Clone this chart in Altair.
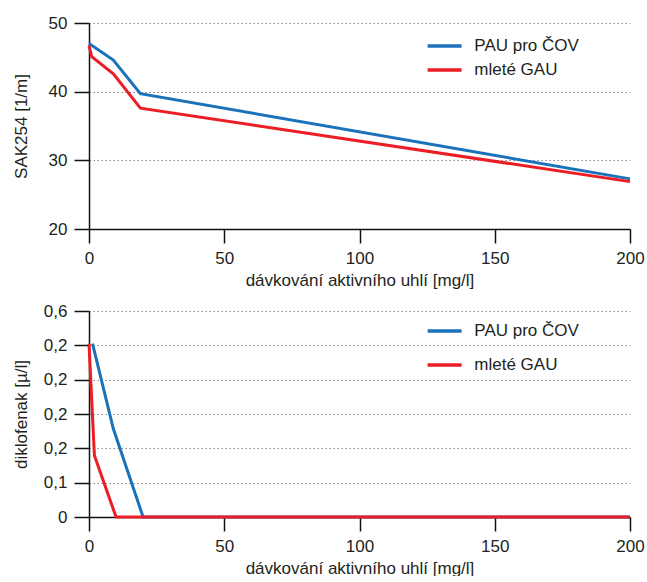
import altair as alt
import pandas as pd

series = ["PAU pro ČOV", "mleté GAU"]
colors = ["#1a72bb", "#ec1d25"]

# top panel: SAK254
top_blue_x = [0, 9, 19, 200]
top_blue_y = [47.0, 44.6, 39.7, 27.3]
top_red_x = [0, 1, 9, 19, 200]
top_red_y = [46.7, 45.1, 42.6, 37.6, 26.9]

# bottom panel: diklofenak
bot_blue_x = [1.3, 9, 20, 200]
bot_blue_y = [0.505, 0.257, 0.0, 0.0]
bot_red_x = [0, 2, 10, 200]
bot_red_y = [0.505, 0.179, 0.0, 0.0]

x_ticks = [0, 50, 100, 150, 200]
top_y_ticks = [20, 30, 40, 50]
bot_y_ticks = [0, 0.1, 0.2, 0.3, 0.4, 0.5, 0.6]
bot_y_labels = ["0", "0,1", "0,2", "0,2", "0,2", "0,2", "0,6"]

x_title = "dávkování aktivního uhlí [mg/l]"
FONT = "Liberation Sans"
TXT = "#231f20"
W, H = 541, 206
LEG_SYMBOL = "M-1.259,0H1.259"


def frame(xs, ys, name):
    return pd.DataFrame({"x": xs, "y": ys, "s": [name] * len(xs)})


top_df = pd.concat([frame(top_blue_x, top_blue_y, series[0]),
                    frame(top_red_x, top_red_y, series[1])])
bot_df = pd.concat([frame(bot_blue_x, bot_blue_y, series[0]),
                    frame(bot_red_x, bot_red_y, series[1])])

x_enc = alt.X("x:Q", scale=alt.Scale(domain=[0, 200], nice=False),
              axis=alt.Axis(values=x_ticks, title=x_title, grid=False,
                            tickSize=14, labelPadding=7, titlePadding=6,
                            labelFlush=False))


def panel(df, ydomain, yticks, ytitle, label_expr, legend_y, row_pad):
    y_axis = alt.Axis(values=yticks, title=ytitle, grid=True, tickSize=15,
                      labelPadding=7, titleX=-59, titleY=H / 2,
                      labelFlush=False,
                      **({"labelExpr": label_expr} if label_expr else {}))
    color = alt.Color("s:N", scale=alt.Scale(domain=series, range=colors),
                      legend=alt.Legend(title=None, orient="none",
                                        legendX=340.1, legendY=legend_y,
                                        symbolType=LEG_SYMBOL, symbolSize=729,
                                        symbolStrokeWidth=3.5, labelFontSize=17,
                                        labelFont=FONT, labelColor=TXT,
                                        labelOffset=14.2, rowPadding=row_pad,
                                        padding=0))
    layers = []
    for name in series:
        layers.append(
            alt.Chart(df).transform_filter(alt.datum.s == name)
            .mark_line(strokeWidth=3)
            .encode(x=x_enc,
                    y=alt.Y("y:Q", scale=alt.Scale(domain=ydomain, nice=False),
                            axis=y_axis),
                    color=color, order=alt.Order("x:Q"))
        )
    return alt.layer(*layers).properties(width=W, height=H)


top = panel(top_df, [20, 50], top_y_ticks, "SAK254 [1/m]", None, 7.5, 0)
expr = "[" + ",".join("'%s'" % l for l in bot_y_labels) + "][round(datum.value*10)]"
bot = panel(bot_df, [0, 0.6], bot_y_ticks, "diklofenak [µ/l]", expr, 4.5, 10)

chart = (alt.vconcat(top, bot, spacing=14)
         .resolve_scale(color="independent")
         .properties(padding={"left": 12, "top": 14, "right": 0, "bottom": 0})
         .configure_view(stroke=None)
         .configure_axis(labelFont=FONT, titleFont=FONT, labelFontSize=17,
                         titleFontSize=17, labelColor=TXT, titleColor=TXT,
                         titleFontWeight="normal", domainColor="#111",
                         tickColor="#111", domainWidth=1.5, tickWidth=1.5,
                         gridColor="#888", gridDash=[1.5, 2.5], gridWidth=1.2))

chart.save("out.html", embed_options={"renderer": "svg", "actions": False})
